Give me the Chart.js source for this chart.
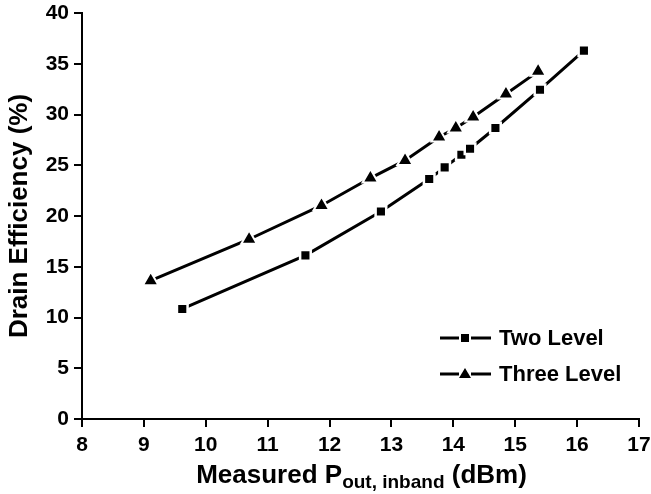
<!DOCTYPE html>
<html>
<head>
<meta charset="utf-8">
<script src="https://cdn.jsdelivr.net/npm/chart.js@4"></script>
<style>
html,body{margin:0;padding:0;background:#fff;}
#wrap{width:651px;height:494px;position:relative;}
</style>
</head>
<body>
<div id="wrap"><canvas id="c" width="651" height="494"></canvas></div>
<script>
const twoLevelX = [9.62, 11.61, 12.83, 13.61, 13.86, 14.13, 14.27, 14.68, 15.40, 16.11];
const twoLevelY = [10.84, 16.12, 20.44, 23.64, 24.79, 26.04, 26.63, 28.67, 32.44, 36.29];
const threeLevelX = [9.11, 10.70, 11.87, 12.66, 13.22, 13.77, 14.04, 14.32, 14.85, 15.37];
const threeLevelY = [13.63, 17.71, 21.04, 23.74, 25.48, 27.78, 28.67, 29.75, 32.02, 34.25];
const seriesNames = ["Two Level", "Three Level"];
const xTicks = [8, 9, 10, 11, 12, 13, 14, 15, 16, 17];
const yTicks = [0, 5, 10, 15, 20, 25, 30, 35, 40];
const yTitle = "Drain Efficiency (%)";
const xTitleParts = ["Measured P", "out, inband", " (dBm)"];

const FONT = "'Liberation Sans', Arial, Helvetica, sans-serif";

function pts(xs, ys) { return xs.map((x, i) => ({x: x, y: ys[i]})); }

const legendPlugin = {
  id: 'customLegend',
  afterDraw(chart) {
    const ctx = chart.ctx;
    const items = [
      {name: seriesNames[0], style: 'rect', y: 338},
      {name: seriesNames[1], style: 'triangle', y: 374}
    ];
    ctx.save();
    items.forEach(it => {
      ctx.strokeStyle = '#000';
      ctx.lineWidth = 3;
      ctx.beginPath();
      ctx.moveTo(440, it.y); ctx.lineTo(459, it.y);
      ctx.moveTo(471, it.y); ctx.lineTo(491, it.y);
      ctx.stroke();
      ctx.fillStyle = '#000';
      const cx = 465;
      if (it.style === 'rect') {
        ctx.fillRect(cx - 4, it.y - 4, 8, 8);
      } else {
        ctx.beginPath();
        ctx.moveTo(cx, it.y - 6);
        ctx.lineTo(cx + 6, it.y + 4);
        ctx.lineTo(cx - 6, it.y + 4);
        ctx.closePath();
        ctx.fill();
      }
      ctx.font = "bold 22px " + FONT;
      ctx.textBaseline = 'middle';
      ctx.textAlign = 'left';
      ctx.fillText(it.name, 499, it.y + 1);
    });
    // x-axis title with subscript
    const ca = chart.chartArea;
    const big = "bold 26px " + FONT, small = "bold 19px " + FONT;
    ctx.font = big; const w1 = ctx.measureText(xTitleParts[0]).width;
    const w3 = ctx.measureText(xTitleParts[2]).width;
    ctx.font = small; const w2 = ctx.measureText(xTitleParts[1]).width;
    const total = w1 + w2 + w3;
    let x0 = (ca.left + ca.right) / 2 - total / 2 + 1;
    const base = 483;
    ctx.textBaseline = 'alphabetic';
    ctx.font = big; ctx.fillText(xTitleParts[0], x0, base);
    ctx.font = small; ctx.fillText(xTitleParts[1], x0 + w1, base + 5);
    ctx.font = big; ctx.fillText(xTitleParts[2], x0 + w1 + w2, base);
    ctx.restore();
  }
};

new Chart(document.getElementById('c'), {
  type: 'scatter',
  data: {
    datasets: [
      {
        label: seriesNames[0],
        data: pts(twoLevelX, twoLevelY),
        showLine: true,
        borderColor: '#000',
        borderWidth: 3,
        pointStyle: 'rect',
        pointRadius: 7.5,
        pointBackgroundColor: '#000',
        pointBorderColor: '#fff',
        pointBorderWidth: 2.5,
        tension: 0
      },
      {
        label: seriesNames[1],
        data: pts(threeLevelX, threeLevelY),
        showLine: true,
        borderColor: '#000',
        borderWidth: 3,
        pointStyle: 'triangle',
        pointRadius: 9,
        pointBackgroundColor: '#000',
        pointBorderColor: '#fff',
        pointBorderWidth: 2,
        tension: 0
      }
    ]
  },
  options: {
    responsive: false,
    animation: false,
    events: [],
    layout: {padding: {top: 13, right: 12, left: 0, bottom: 0}},
    plugins: {legend: {display: false}, tooltip: {enabled: false}},
    scales: {
      x: {
        type: 'linear',
        min: 8, max: 17,
        afterFit(s) { s.height = 75; s.paddingLeft = 0; s.paddingRight = 0; },
        afterBuildTicks(s) { s.ticks = xTicks.map(v => ({value: v})); },
        grid: {drawOnChartArea: false, drawTicks: true, tickLength: 8, color: '#000', lineWidth: 2},
        border: {display: true, color: '#000', width: 2},
        ticks: {color: '#000', font: {family: FONT, size: 21, weight: 'bold'}, padding: 6, maxRotation: 0}
      },
      y: {
        type: 'linear',
        min: 0, max: 40,
        afterFit(s) { s.width = 82; s.paddingTop = 0; s.paddingBottom = 0; },
        afterBuildTicks(s) { s.ticks = yTicks.map(v => ({value: v})); },
        grid: {drawOnChartArea: false, drawTicks: true, tickLength: 8, color: '#000', lineWidth: 2},
        border: {display: true, color: '#000', width: 2},
        ticks: {color: '#000', font: {family: FONT, size: 21, weight: 'bold'}, padding: 5},
        title: {display: true, text: yTitle, color: '#000', font: {family: FONT, size: 26, weight: 'bold'}, padding: {top: 4, bottom: 0}}
      }
    }
  },
  plugins: [legendPlugin]
});
</script>
</body>
</html>
